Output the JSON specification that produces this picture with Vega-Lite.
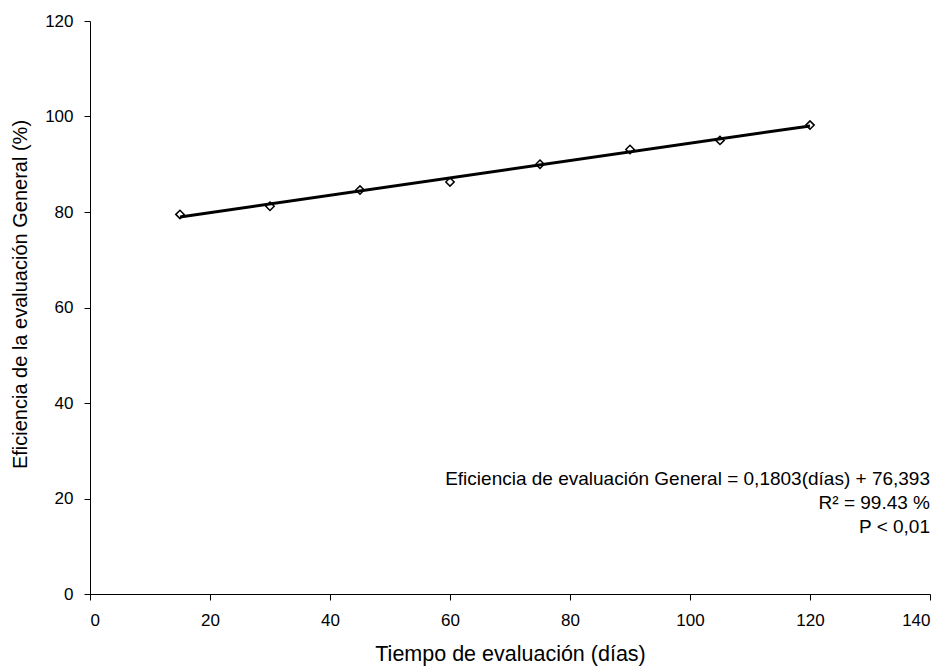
{
  "$schema": "https://vega.github.io/schema/vega-lite/v6.json",
  "width": 840,
  "height": 573,
  "autosize": {"type": "none"},
  "padding": {"left": 90, "top": 21, "right": 20, "bottom": 76},
  "background": "white",
  "config": {
    "view": {"stroke": null},
    "font": "Liberation Sans",
    "axis": {
      "grid": false,
      "domainColor": "black",
      "tickColor": "black",
      "labelColor": "black",
      "titleColor": "black",
      "labelFont": "Liberation Sans",
      "titleFont": "Liberation Sans",
      "labelFontSize": 17,
      "titleFontWeight": "normal",
      "tickSize": 6
    }
  },
  "layer": [
    {
      "data": {
        "values": [
          {"dias": 15, "eficiencia": 79.5},
          {"dias": 30, "eficiencia": 81.2},
          {"dias": 45, "eficiencia": 84.6},
          {"dias": 60, "eficiencia": 86.3},
          {"dias": 75, "eficiencia": 90.0},
          {"dias": 90, "eficiencia": 93.1},
          {"dias": 105, "eficiencia": 95.0},
          {"dias": 120, "eficiencia": 98.2}
        ]
      },
      "layer": [
        {
          "mark": {"type": "point", "shape": "diamond", "filled": false, "stroke": "black", "strokeWidth": 1.5, "size": 70, "opacity": 1},
          "encoding": {
            "x": {
              "field": "dias", "type": "quantitative",
              "scale": {"domain": [0, 140], "nice": false},
              "axis": {"values": [0, 20, 40, 60, 80, 100, 120, 140], "title": "Tiempo de evaluación (días)", "titleFontSize": 21.5, "labelPadding": 12, "titlePadding": 15}
            },
            "y": {
              "field": "eficiencia", "type": "quantitative",
              "scale": {"domain": [0, 120], "nice": false},
              "axis": {"values": [0, 20, 40, 60, 80, 100, 120], "title": "Eficiencia de la evaluación General (%)", "titleFontSize": 20, "labelPadding": 11, "titlePadding": 14, "titleY": 273}
            }
          }
        },
        {
          "transform": [{"regression": "eficiencia", "on": "dias", "method": "linear"}],
          "mark": {"type": "line", "color": "black", "strokeWidth": 3},
          "encoding": {
            "x": {"field": "dias", "type": "quantitative"},
            "y": {"field": "eficiencia", "type": "quantitative"}
          }
        }
      ]
    },
    {
      "data": {"values": [{"nota": "ecuacion"}]},
      "mark": {"type": "text", "align": "right", "baseline": "middle", "fontSize": 19, "lineHeight": 24, "fill": "black", "font": "Liberation Sans"},
      "encoding": {
        "x": {"datum": 140},
        "y": {"datum": 24.1},
        "text": {"value": ["Eficiencia de evaluación General = 0,1803(días) + 76,393", "R² = 99.43 %", "P < 0,01"]}
      }
    }
  ]
}
